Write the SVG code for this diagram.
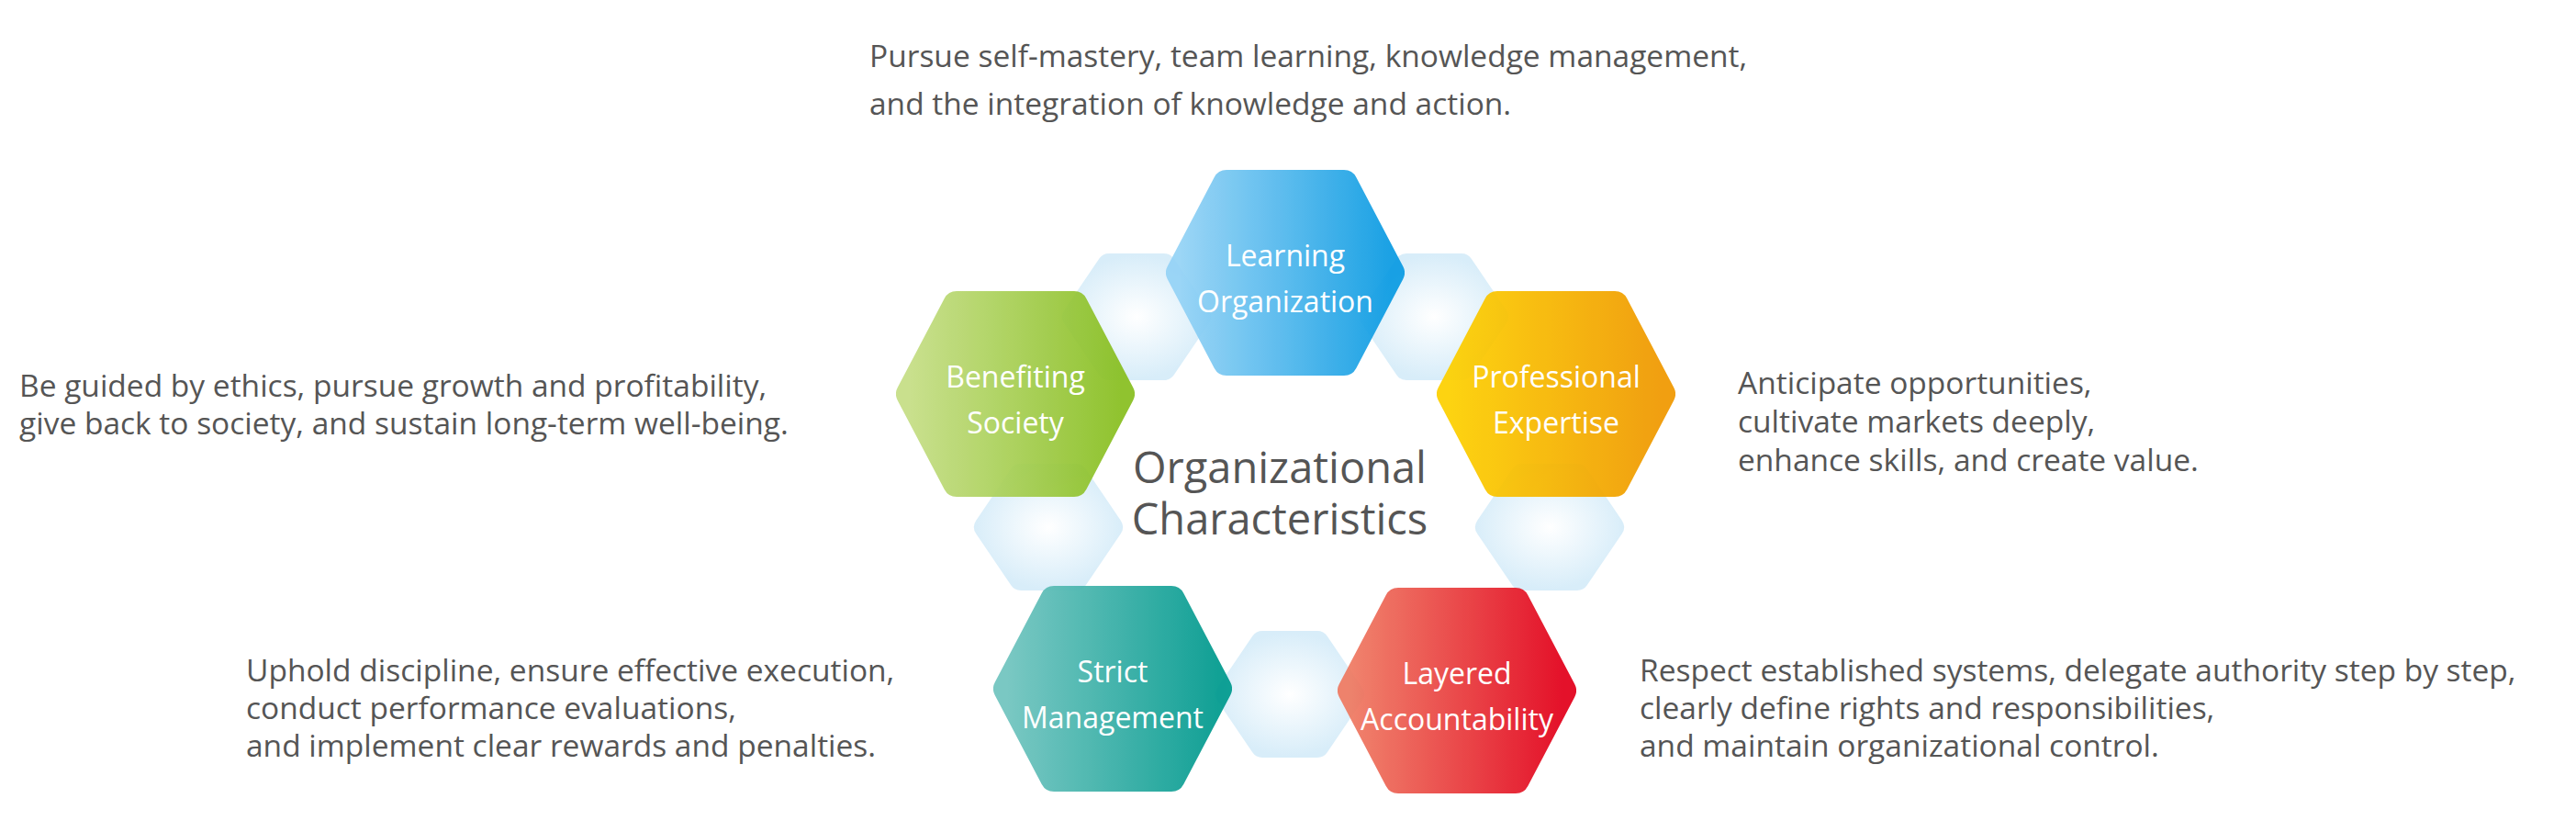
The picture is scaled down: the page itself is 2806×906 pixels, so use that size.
<svg xmlns="http://www.w3.org/2000/svg" width="2806" height="906" viewBox="0 0 2806 906">
<style>
.d{font-family:"Open Sans","Noto Sans",sans-serif;font-size:33.5px;fill:#555}
.n{font-family:"Open Sans","Noto Sans",sans-serif;font-size:32px;fill:#fff;text-anchor:middle}
.t{font-family:"Open Sans","Noto Sans",sans-serif;font-size:47px;fill:#555;text-anchor:middle}
.lh{fill:url(#gl);stroke:url(#gl);stroke-width:26;stroke-linejoin:round}
.h{stroke-width:30;stroke-linejoin:round;opacity:0.93}
</style>
<defs>
<radialGradient id="gl" cx="0.5" cy="0.5" r="0.6"><stop offset="0" stop-color="#ffffff"/><stop offset="1" stop-color="#d8edf9"/></radialGradient>
<linearGradient id="gb"><stop offset="0" stop-color="#95d3f6"/><stop offset="1" stop-color="#0a9be3"/></linearGradient>
<linearGradient id="gg"><stop offset="0" stop-color="#c5de85"/><stop offset="1" stop-color="#88bf20"/></linearGradient>
<linearGradient id="go"><stop offset="0" stop-color="#fdd000"/><stop offset="1" stop-color="#f09800"/></linearGradient>
<linearGradient id="gt"><stop offset="0" stop-color="#70c4bf"/><stop offset="1" stop-color="#009a8e"/></linearGradient>
<linearGradient id="gr"><stop offset="0" stop-color="#ef7a62"/><stop offset="1" stop-color="#e3001a"/></linearGradient>
</defs>
<g id="light">
<polygon class="lh" transform="translate(1238,345)" points="-68,0 -30,-56 30,-56 68,0 30,56 -30,56"/>
<polygon class="lh" transform="translate(1562,345)" points="-68,0 -30,-56 30,-56 68,0 30,56 -30,56"/>
<polygon class="lh" transform="translate(1142,574)" points="-68,0 -30,-56 30,-56 68,0 30,56 -30,56"/>
<polygon class="lh" transform="translate(1688,574)" points="-68,0 -30,-56 30,-56 68,0 30,56 -30,56"/>
<polygon class="lh" transform="translate(1405,756)" points="-68,0 -30,-56 30,-56 68,0 30,56 -30,56"/>
</g>
<g id="learning">
<polygon class="h" fill="url(#gb)" stroke="url(#gb)" transform="translate(1400,297)" points="-115,0 -64,-97 64,-97 115,0 64,97 -64,97"/>
<text class="n" x="1400" y="290">Learning</text><text class="n" x="1400" y="340">Organization</text>
</g>
<g id="benefiting">
<polygon class="h" fill="url(#gg)" stroke="url(#gg)" transform="translate(1106,429)" points="-115,0 -64,-97 64,-97 115,0 64,97 -64,97"/>
<text class="n" x="1106" y="422">Benefiting</text><text class="n" x="1106" y="472">Society</text>
</g>
<g id="professional">
<polygon class="h" fill="url(#go)" stroke="url(#go)" transform="translate(1695,429)" points="-115,0 -64,-97 64,-97 115,0 64,97 -64,97"/>
<text class="n" x="1695" y="422">Professional</text><text class="n" x="1695" y="472">Expertise</text>
</g>
<g id="strict">
<polygon class="h" fill="url(#gt)" stroke="url(#gt)" transform="translate(1212,750)" points="-115,0 -64,-97 64,-97 115,0 64,97 -64,97"/>
<text class="n" x="1212" y="743">Strict</text><text class="n" x="1212" y="793">Management</text>
</g>
<g id="layered">
<polygon class="h" fill="url(#gr)" stroke="url(#gr)" transform="translate(1587,752)" points="-115,0 -64,-97 64,-97 115,0 64,97 -64,97"/>
<text class="n" x="1587" y="745">Layered</text><text class="n" x="1587" y="795">Accountability</text>
</g>
<g id="center">
<text class="t" x="1394" y="526">Organizational</text><text class="t" x="1394" y="582">Characteristics</text>
</g>
<g id="descriptions">
<text class="d" x="947" y="73">Pursue self-mastery, team learning, knowledge management,</text>
<text class="d" x="947" y="125">and the integration of knowledge and action.</text>
<text class="d" x="21" y="432">Be guided by ethics, pursue growth and profitability,</text>
<text class="d" x="21" y="473">give back to society, and sustain long-term well-being.</text>
<text class="d" x="1893" y="429">Anticipate opportunities,</text>
<text class="d" x="1893" y="471">cultivate markets deeply,</text>
<text class="d" x="1893" y="513">enhance skills, and create value.</text>
<text class="d" x="268" y="742">Uphold discipline, ensure effective execution,</text>
<text class="d" x="268" y="783">conduct performance evaluations,</text>
<text class="d" x="268" y="824">and implement clear rewards and penalties.</text>
<text class="d" x="1786" y="742">Respect established systems, delegate authority step by step,</text>
<text class="d" x="1786" y="783">clearly define rights and responsibilities,</text>
<text class="d" x="1786" y="824">and maintain organizational control.</text>
</g>
<g id="connectors"/>
</svg>
